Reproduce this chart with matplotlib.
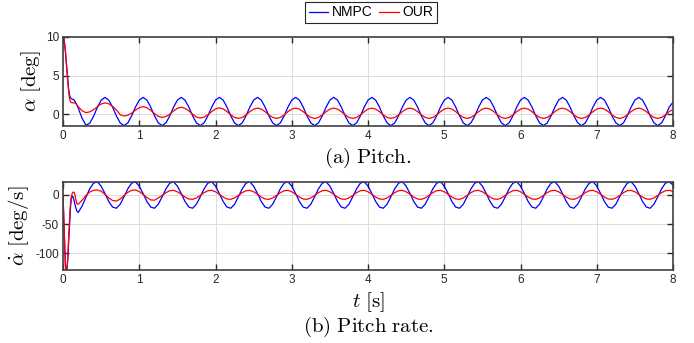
import numpy as np
import matplotlib.pyplot as plt

plt.rcParams['font.family'] = ['Liberation Sans', 'DejaVu Sans']
plt.rcParams['mathtext.fontset'] = 'cm'
plt.rcParams['axes.unicode_minus'] = False

# time grid: fine steps during the initial transient, then every 0.05 s
t_init = [0.00, 0.01, 0.02, 0.03, 0.04, 0.05, 0.06, 0.07, 0.08, 0.09, 0.10,
          0.11, 0.12, 0.13, 0.14, 0.15, 0.16, 0.17, 0.18, 0.19, 0.20]
t_cyc = np.round(np.arange(0.25, 8.001, 0.05), 2)

# pitch alpha [deg], NMPC
alpha_nmpc_init = [10.0, 9.8, 9.2, 8.3, 7.1, 5.8, 4.6, 3.6, 2.8, 2.3, 2.1,
                   2.0, 1.95, 1.9, 1.85, 1.75, 1.6, 1.42, 1.22, 1.0, 0.75]
alpha_nmpc_rows = [
    [-0.55, -1.45, -1.2, -0.3, 0.85, 1.8, 2.16, 1.81, 0.9, -0.24],
    [-1.15, -1.5, -1.15, -0.24, 0.9, 1.81, 2.16, 1.81, 0.9, -0.24],
    [-1.15, -1.5, -1.15, -0.24, 0.9, 1.81, 2.16, 1.81, 0.9, -0.24],
    [-1.15, -1.5, -1.15, -0.24, 0.9, 1.81, 2.16, 1.81, 0.9, -0.24],
    [-1.15, -1.5, -1.15, -0.24, 0.9, 1.81, 2.16, 1.81, 0.9, -0.24],
    [-1.15, -1.5, -1.15, -0.24, 0.9, 1.81, 2.16, 1.81, 0.9, -0.24],
    [-1.15, -1.5, -1.15, -0.24, 0.9, 1.81, 2.16, 1.81, 0.9, -0.24],
    [-1.15, -1.5, -1.15, -0.24, 0.9, 1.81, 2.16, 1.81, 0.9, -0.24],
    [-1.15, -1.5, -1.15, -0.24, 0.9, 1.81, 2.16, 1.81, 0.9, -0.24],
    [-1.15, -1.5, -1.15, -0.24, 0.9, 1.81, 2.16, 1.81, 0.9, -0.24],
    [-1.15, -1.5, -1.15, -0.24, 0.9, 1.81, 2.16, 1.81, 0.9, -0.24],
    [-1.15, -1.5, -1.15, -0.24, 0.9, 1.81, 2.16, 1.81, 0.9, -0.24],
    [-1.15, -1.5, -1.15, -0.24, 0.9, 1.81, 2.16, 1.81, 0.9, -0.24],
    [-1.15, -1.5, -1.15, -0.24, 0.9, 1.81, 2.16, 1.81, 0.9, -0.24],
    [-1.15, -1.5, -1.15, -0.24, 0.9, 1.81, 2.16, 1.81, 0.9, -0.24],
]
alpha_nmpc_tail = [-1.15, -1.5, -1.15, -0.24, 0.9, 1.55]

# pitch alpha [deg], OUR
alpha_our_init = [10.0, 9.8, 9.2, 8.3, 7.1, 5.8, 4.5, 3.3, 2.4, 1.8, 1.55,
                  1.48, 1.45, 1.46, 1.47, 1.45, 1.4, 1.32, 1.2, 1.08, 0.95]
alpha_our_rows = [
    [0.42, 0.18, 0.28, 0.55, 0.95, 1.3, 1.45, 1.33, 1.0, 0.52],
    [-0.08, -0.26, -0.15, 0.12, 0.5, 0.83, 0.96, 0.83, 0.48, 0.05],
    [-0.3, -0.44, -0.32, -0.02, 0.4, 0.74, 0.88, 0.75, 0.4, -0.02],
    [-0.39, -0.52, -0.4, -0.1, 0.32, 0.67, 0.8, 0.67, 0.32, -0.1],
    [-0.44, -0.57, -0.44, -0.11, 0.31, 0.64, 0.77, 0.64, 0.31, -0.11],
    [-0.44, -0.57, -0.44, -0.11, 0.31, 0.64, 0.77, 0.64, 0.31, -0.11],
    [-0.44, -0.57, -0.44, -0.11, 0.31, 0.64, 0.77, 0.64, 0.31, -0.11],
    [-0.44, -0.57, -0.44, -0.11, 0.31, 0.64, 0.77, 0.64, 0.31, -0.11],
    [-0.44, -0.57, -0.44, -0.11, 0.31, 0.64, 0.77, 0.64, 0.31, -0.11],
    [-0.44, -0.57, -0.44, -0.11, 0.31, 0.64, 0.77, 0.64, 0.31, -0.11],
    [-0.44, -0.57, -0.44, -0.11, 0.31, 0.64, 0.77, 0.64, 0.31, -0.11],
    [-0.44, -0.57, -0.44, -0.11, 0.31, 0.64, 0.77, 0.64, 0.31, -0.11],
    [-0.44, -0.57, -0.44, -0.11, 0.31, 0.64, 0.77, 0.64, 0.31, -0.11],
    [-0.44, -0.57, -0.44, -0.11, 0.31, 0.64, 0.77, 0.64, 0.31, -0.11],
    [-0.44, -0.57, -0.44, -0.11, 0.31, 0.64, 0.77, 0.64, 0.31, -0.11],
]
alpha_our_tail = [-0.44, -0.57, -0.44, -0.11, 0.31, 0.6]

# pitch rate [deg/s], NMPC
rate_nmpc_init = [0, -40, -85, -116, -131, -130, -115, -90, -62, -38, -18,
                  -6, -2, -3, -7, -12, -18, -23, -27, -29, -30]
rate_nmpc_rows = [
    [-19, -4, 10.6, 20.3, 22.6, 15.2, 2.5, -11.2, -20.8, -22.8],
    [-15.8, -3.1, 10.6, 20.3, 22.6, 15.2, 2.5, -11.2, -20.8, -22.8],
    [-15.8, -3.1, 10.6, 20.3, 22.6, 15.2, 2.5, -11.2, -20.8, -22.8],
    [-15.8, -3.1, 10.6, 20.3, 22.6, 15.2, 2.5, -11.2, -20.8, -22.8],
    [-15.8, -3.1, 10.6, 20.3, 22.6, 15.2, 2.5, -11.2, -20.8, -22.8],
    [-15.8, -3.1, 10.6, 20.3, 22.6, 15.2, 2.5, -11.2, -20.8, -22.8],
    [-15.8, -3.1, 10.6, 20.3, 22.6, 15.2, 2.5, -11.2, -20.8, -22.8],
    [-15.8, -3.1, 10.6, 20.3, 22.6, 15.2, 2.5, -11.2, -20.8, -22.8],
    [-15.8, -3.1, 10.6, 20.3, 22.6, 15.2, 2.5, -11.2, -20.8, -22.8],
    [-15.8, -3.1, 10.6, 20.3, 22.6, 15.2, 2.5, -11.2, -20.8, -22.8],
    [-15.8, -3.1, 10.6, 20.3, 22.6, 15.2, 2.5, -11.2, -20.8, -22.8],
    [-15.8, -3.1, 10.6, 20.3, 22.6, 15.2, 2.5, -11.2, -20.8, -22.8],
    [-15.8, -3.1, 10.6, 20.3, 22.6, 15.2, 2.5, -11.2, -20.8, -22.8],
    [-15.8, -3.1, 10.6, 20.3, 22.6, 15.2, 2.5, -11.2, -20.8, -22.8],
    [-15.8, -3.1, 10.6, 20.3, 22.6, 15.2, 2.5, -11.2, -20.8, -22.8],
]
rate_nmpc_tail = [-15.8, -3.1, 10.6, 20.3, 22.6, 17.0]

# pitch rate [deg/s], OUR
rate_our_init = [0, -40, -85, -118, -134, -133, -112, -85, -55, -30, -12,
                 -2, 2.5, 4.5, 5, 3.5, -2, -9, -14, -16, -16]
rate_our_rows = [
    [-9, -1, 5, 8, 8.6, 6.5, 1, -5, -9.5, -10.5],
    [-7, -1, 4.5, 8, 8.5, 6, 1, -4.5, -8.5, -9],
    [-5.1, -0.8, 4.0, 7.3, 7.9, 5.5, 1.2, -3.6, -6.9, -7.5],
    [-5.1, -0.8, 4.0, 7.3, 7.9, 5.5, 1.2, -3.6, -6.9, -7.5],
    [-5.1, -0.8, 4.0, 7.3, 7.9, 5.5, 1.2, -3.6, -6.9, -7.5],
    [-5.1, -0.8, 4.0, 7.3, 7.9, 5.5, 1.2, -3.6, -6.9, -7.5],
    [-5.1, -0.8, 4.0, 7.3, 7.9, 5.5, 1.2, -3.6, -6.9, -7.5],
    [-5.1, -0.8, 4.0, 7.3, 7.9, 5.5, 1.2, -3.6, -6.9, -7.5],
    [-5.1, -0.8, 4.0, 7.3, 7.9, 5.5, 1.2, -3.6, -6.9, -7.5],
    [-5.1, -0.8, 4.0, 7.3, 7.9, 5.5, 1.2, -3.6, -6.9, -7.5],
    [-5.1, -0.8, 4.0, 7.3, 7.9, 5.5, 1.2, -3.6, -6.9, -7.5],
    [-5.1, -0.8, 4.0, 7.3, 7.9, 5.5, 1.2, -3.6, -6.9, -7.5],
    [-5.1, -0.8, 4.0, 7.3, 7.9, 5.5, 1.2, -3.6, -6.9, -7.5],
    [-5.1, -0.8, 4.0, 7.3, 7.9, 5.5, 1.2, -3.6, -6.9, -7.5],
    [-5.1, -0.8, 4.0, 7.3, 7.9, 5.5, 1.2, -3.6, -6.9, -7.5],
]
rate_our_tail = [-5.1, -0.8, 4.0, 7.3, 7.9, 6.0]


def series(init, rows, tail):
    return np.concatenate([init, np.ravel(rows), tail])


t = np.concatenate([t_init, t_cyc])
alpha_nmpc = series(alpha_nmpc_init, alpha_nmpc_rows, alpha_nmpc_tail)
alpha_our = series(alpha_our_init, alpha_our_rows, alpha_our_tail)
rate_nmpc = series(rate_nmpc_init, rate_nmpc_rows, rate_nmpc_tail)
rate_our = series(rate_our_init, rate_our_rows, rate_our_tail)

fig = plt.figure(figsize=(6.94, 3.43), dpi=100)
ax1 = fig.add_axes([0.0908, 0.6327, 0.879, 0.2595])
ax2 = fig.add_axes([0.0908, 0.2128, 0.879, 0.2566])

l1, = ax1.plot(t, alpha_nmpc, color='#0000ff', lw=0.9, label='NMPC')
l2, = ax1.plot(t, alpha_our, color='#ff0000', lw=0.9, label='OUR')
ax2.plot(t, rate_nmpc, color='#0000ff', lw=0.9)
ax2.plot(t, rate_our, color='#ff0000', lw=0.9)

ax1.set_ylim(-1.55, 10)
ax1.set_yticks([0, 5, 10])
ax2.set_ylim(-129, 22.3)
ax2.set_yticks([-100, -50, 0])

for ax in (ax1, ax2):
    ax.set_xlim(0, 8)
    ax.set_xticks(range(9))
    ax.grid(True, color='#dcdcdc', lw=0.7)
    ax.set_axisbelow(True)
    ax.tick_params(direction='in', top=True, right=True, length=4, width=1,
                   colors='#262626', labelsize=8.5, pad=3)
    for s in ax.spines.values():
        s.set_color('#404040')
        s.set_linewidth(1.2)

ax1.set_ylabel(r'$\alpha\ [\mathrm{deg}]$', fontsize=15)
ax1.yaxis.set_label_coords(-0.033, 0.5)
ax2.set_ylabel(r'$\dot{\alpha}\ [\mathrm{deg/s}]$', fontsize=15)
ax2.yaxis.set_label_coords(-0.053, 0.5)

fig.text(368 / 694, 1 - 158 / 343, r'$\mathrm{(a)\ Pitch.}$', ha='center', va='center', fontsize=15)
fig.text(368 / 694, 1 - 302 / 343, r'$t\ [\mathrm{s}]$', ha='center', va='center', fontsize=15)
fig.text(368 / 694, 1 - 327 / 343, r'$\mathrm{(b)\ Pitch\ rate.}$', ha='center', va='center', fontsize=15)

leg = fig.legend([l1, l2], ['NMPC', 'OUR'], loc='upper center', bbox_to_anchor=(371 / 694, 1 - 2 / 343),
                 ncol=2, fontsize=10, handlelength=1.4, handletextpad=0.25, columnspacing=0.5,
                 borderpad=0.25, borderaxespad=0, fancybox=False, edgecolor='#262626', framealpha=1)
leg.get_frame().set_linewidth(0.8)

fig.savefig('out.png', dpi=100)
